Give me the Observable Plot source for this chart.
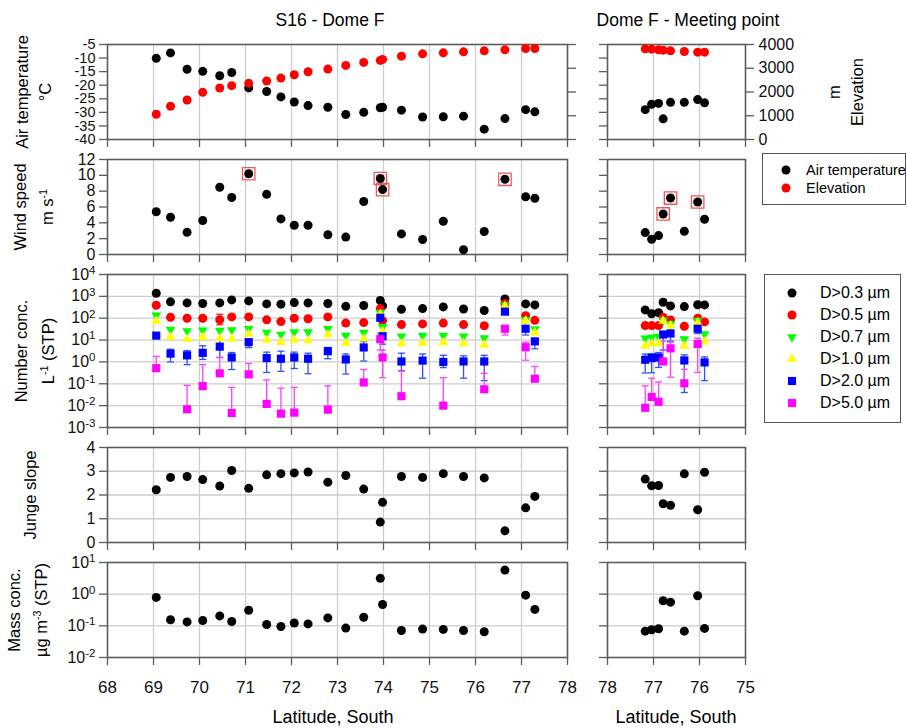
<!DOCTYPE html>
<html><head><meta charset="utf-8">
<script src="https://cdn.jsdelivr.net/npm/d3@7"></script>
<script src="https://cdn.jsdelivr.net/npm/@observablehq/plot@0.6"></script>
<style>
body{margin:0;background:#fff;}
#chart{position:relative;width:907px;height:728px;font-family:"Liberation Sans",Arial,Helvetica,sans-serif;color:#000;overflow:hidden;background:#fff}
#chart svg.panel{position:absolute;overflow:visible;background:transparent}
.t{position:absolute;white-space:nowrap;transform:translate(-50%,-50%);}
.rot{position:absolute;white-space:nowrap;text-align:center;transform:translate(-50%,-50%) rotate(-90deg);line-height:23px;font-size:16.5px}
.legend{position:absolute;border:1.3px solid #555;background:#fff;box-sizing:border-box}
.li{position:absolute;white-space:nowrap;line-height:20px}
</style></head><body><div id="chart"></div><script>
// ---------- S16 - Dome F ----------
const latS16  = [69.06, 69.37, 69.73, 70.07, 70.44, 70.70, 71.07, 71.46, 71.77, 72.06, 72.36, 72.79, 73.18, 73.57, 73.93, 73.98, 74.39, 74.85, 75.30, 75.74, 76.19, 76.64, 77.09, 77.29];
const tempS16 = [-10.1, -8.1, -14.1, -14.9, -16.5, -15.3, -21.0, -22.3, -24.3, -26.2, -27.5, -28.1, -30.8, -30.0, -28.3, -28.1, -29.2, -31.7, -31.6, -31.4, -36.2, -32.3, -29.0, -29.8];
const elevS16 = [1063, 1399, 1664, 1986, 2168, 2266, 2364, 2462, 2587, 2727, 2853, 2965, 3119, 3245, 3329, 3371, 3510, 3608, 3650, 3692, 3734, 3776, 3832, 3832];
const windS16 = [5.4, 4.7, 2.8, 4.3, 8.5, 7.2, 10.2, 7.6, 4.5, 3.7, 3.7, 2.5, 2.2, 6.7, 9.6, 8.2, 2.6, 1.9, 4.2, 0.6, 2.9, 9.5, 7.3, 7.1];
const windBoxS16 = [0,0,0,0,0,0,1,0,0,0,0,0,0,0,1,1,0,0,0,0,0,1,0,0];
const n03S16 = [1380, 560, 500, 470, 500, 690, 620, 450, 440, 520, 500, 470, 350, 380, 650, 365, 255, 275, 330, 265, 225, 760, 450, 405];
const n05S16 = [390, 110, 100, 100, 85, 115, 115, 84, 70, 100, 95, 115, 60, 63, 275, 78, 51, 55, 60, 51, 45, 470, 130, 80];
const n05LoS16 = [null,null,null,null,50,null,null,null,null,null,null,null,null,null,null,null,null,null,null,null,null,null,null,null];
const n05HiS16 = [null,null,null,null,150,null,null,null,null,null,null,null,null,null,null,null,null,null,null,null,null,null,null,null];
const n07S16 = [135, 30, 26, 28, 27, 29, 33, 22, 18, 23, 23, 33, 16, 22, 180, 40, 15, 16, 16, 15, 12.5, 400, 85, 32];
const n10S16 = [75, 14, 11, 13.5, 12, 11.5, 19, 10, 8, 10, 9.5, 18, 7.4, 11.5, 150, 25, 7, 7.4, 7.8, 7, 6.2, 360, 75, 22];
const n20S16 = [16, 2.4, 2.0, 2.6, 5.0, 1.6, 8, 1.5, 1.4, 1.6, 1.4, 3.1, 1.3, 4.6, 105, 15, 1.05, 1.15, 1.0, 1.05, 1.05, 200, 33, 8.7];
const n20LoS16 = [null, 1.0, 0.75, 1.3, 1.6, 0.45, 4.5, 0.33, 0.37, 0.5, 0.29, 1.4, 0.28, 1.1, null, 6.5, 0.4, 0.18, 0.55, 0.18, 0.14, null, 17, 4.0];
const n20HiS16 = [null, 3.8, 3.3, 5.5, 30, 2.7, 11, 2.8, 3.1, 2.8, 2.5, 4.6, 2.3, 8.5, null, 21, 2.5, 2.3, 2.0, 1.9, 2.0, null, 42, 12];
const n50S16 = [0.52, null, 0.0068, 0.078, 0.3, 0.0046, 0.27, 0.012, 0.0043, 0.0048, null, 0.0066, null, 0.115, 11, 1.6, 0.027, null, 0.01, null, 0.056, 33, 4.7, 0.17];
const n50LoS16 = [null,null,null,null,null,null,null,null,null,null,null,null,null,null,3.5,0.19,null,null,null,null,null,17,1.2,null];
const n50HiS16 = [1.8, null, 0.085, 0.75, 1.6, 0.068, 0.85, 0.15, 0.063, 0.068, null, 0.08, null, 0.45, 20, 3.5, 0.38, null, 0.19, null, 0.3, 45, 8, 0.62];
const jungeS16 = [2.22, 2.74, 2.78, 2.65, 2.38, 3.03, 2.28, 2.85, 2.90, 2.93, 2.97, 2.54, 2.82, 2.25, 0.86, 1.69, 2.78, 2.74, 2.90, 2.78, 2.72, 0.49, 1.46, 1.94];
const massS16 = [0.79, 0.155, 0.133, 0.147, 0.206, 0.137, 0.31, 0.11, 0.095, 0.123, 0.115, 0.178, 0.085, 0.187, 3.16, 0.47, 0.071, 0.079, 0.077, 0.071, 0.065, 5.75, 0.93, 0.33];

// ---------- Dome F - Meeting point ----------
const latDF  = [77.18, 77.04, 76.89, 76.79, 76.63, 76.33, 76.04, 75.89];
const tempDF = [-29.0, -27.0, -26.7, -32.4, -26.3, -26.3, -25.3, -26.5];
const elevDF = [3818, 3804, 3776, 3762, 3734, 3706, 3678, 3678];
const windDF = [2.77, 1.93, 2.39, 5.12, 7.13, 2.94, 6.63, 4.45];
const windBoxDF = [0,0,0,1,1,0,1,0];
const n03DF = [240, 160, 180, 540, 365, 340, 415, 405];
const n03LoDF = [null,null,null,420,null,null,null,null];
const n03HiDF = [null,null,null,700,null,null,null,null];
const n05DF = [46, 46, 46, 110, 83, 43, 100, 68];
const n07DF = [12, 13.5, 14.5, 80, 55, 11, 78, 19];
const n10DF = [5.4, 7, 7, 75, 46, 5.4, 63, 8.5];
const n20DF = [1.26, 1.5, 1.6, 18, 20, 1.17, 33, 0.95];
const n20LoDF = [0.31, 0.32, 0.56, 3.5, 9, 0.04, 20, 0.14];
const n20HiDF = [2.3, 2.4, 2.7, 22, 28, 2.1, 40, 1.7];
const n50DF = [0.008, 0.025, 0.015, 1.05, 4.2, 0.105, 6.6, null];
const n50LoDF = [null, null, null, null, 0.2, null, 0.33, null];
const n50HiDF = [0.08, 0.18, 0.12, 9, 8, 0.46, 12, null];
const jungeDF = [2.67, 2.39, 2.40, 1.63, 1.57, 2.89, 1.38, 2.96];
const massDF = [0.068, 0.075, 0.081, 0.62, 0.56, 0.068, 0.89, 0.083];

// ---------- axis ticks / labels ----------
const tempTicks = [-40, -35, -30, -25, -20, -15, -10, -5];
const elevTicks = [0, 1000, 2000, 3000, 4000];
const windTicks = [0, 2, 4, 6, 8, 10, 12];
const numTicks = [1e-3, 1e-2, 1e-1, 1e0, 1e1, 1e2, 1e3, 1e4];
const jungeTicks = [0, 1, 2, 3, 4];
const massTicks = [1e-2, 1e-1, 1e0, 1e1];
const latTicksS16 = [68, 69, 70, 71, 72, 73, 74, 75, 76, 77, 78];
const latTicksDF = [78, 77, 76, 75];
const sizeLabels = ["D>0.3 \u00b5m", "D>0.5 \u00b5m", "D>0.7 \u00b5m", "D>1.0 \u00b5m", "D>2.0 \u00b5m", "D>5.0 \u00b5m"];
const sizeColors = ["#000000", "#ff0000", "#00ff00", "#ffff00", "#0000ff", "#ff00ff"];

// ---------- layout ----------
const FONT = '"Liberation Sans", Arial, Helvetica, sans-serif';
const GRAY = "#5c5c5c", GRID = "#cdcdcd";
const COLS = [{x0: 107, x1: 567, domain: [68, 78], ticks: latTicksS16}, {x0: 607, x1: 745, domain: [78, 75], ticks: latTicksDF}];
const ROWS = [[44, 139], [159, 254], [274, 427], [447, 542], [562, 657]];
const chart = document.getElementById("chart");

const ELO = -40, EHI = -5;
const toT = e => ELO + e / 4000 * (EHI - ELO);
const fromT = t => Math.round((t - ELO) / (EHI - ELO) * 4000);

const sq = Math.sqrt(3);
const TRI_DOWN = {draw(ctx, size) { const y = -Math.sqrt(size / (sq * 3)); ctx.moveTo(0, -y * 2); ctx.lineTo(-sq * y, y); ctx.lineTo(sq * y, y); ctx.closePath(); }};
const CAP = {draw(ctx) { ctx.moveTo(-3.5, 0); ctx.lineTo(3.5, 0); }};
const symbols = ["circle", "circle", TRI_DOWN, "triangle", "square", "square"];
const symR = [4.5, 4.5, 3.6, 3.6, 4.6, 4.6];

function recs(lat, v, lo, hi, box) {
  return lat.map((x, i) => ({lat: x, v: v[i], lo: lo ? lo[i] : null, hi: hi ? hi[i] : null, box: box ? box[i] : 0}))
            .filter(d => d.v != null);
}
const logFmt = d => "10^" + Math.round(Math.log10(d));
const numFmt = d => String(d);

function errMarks(data, color) {
  const e = data.filter(d => d.hi != null);
  return [
    Plot.ruleX(e, {x: "lat", y1: d => (d.lo != null ? d.lo : d.v), y2: "hi", stroke: color, strokeWidth: 1.3}),
    Plot.dot(e, {x: "lat", y: "hi", symbol: CAP, stroke: color, strokeWidth: 1.3, fill: "none"}),
    Plot.dot(e.filter(d => d.lo != null), {x: "lat", y: "lo", symbol: CAP, stroke: color, strokeWidth: 1.3, fill: "none"})
  ];
}

function supify(svg) {
  d3.select(svg).selectAll("text").each(function () {
    const t = this.textContent;
    if (t.includes("^")) {
      const [b, e] = t.split("^");
      const s = d3.select(this);
      s.text(null);
      s.append("tspan").text(b);
      s.append("tspan").attr("dy", "-0.5em").attr("font-size", "0.72em").text(e);
    }
  });
}

function panel({col, row, y, yTicks, yFmt, gridY, marks, extra, fontSize}) {
  const C = COLS[col];
  const [y0, y1] = ROWS[row];
  const mL = 70, mR = 80, mT = 10, mB = 50;
  const last = row === 4;
  const svg = Plot.plot({
    width: C.x1 - C.x0 + mL + mR, height: y1 - y0 + mT + mB,
    marginLeft: mL, marginRight: mR, marginTop: mT, marginBottom: mB,
    x: {domain: C.domain, label: null},
    y: {...y, label: null},
    style: {fontFamily: FONT, fontSize: (fontSize || 16) + "px", color: "#111", background: "transparent", overflow: "visible"},
    marks: [
      Plot.gridX(C.ticks.slice(1, -1), {stroke: GRID, strokeOpacity: 1, strokeWidth: 1.3}),
      gridY ? Plot.gridY(gridY, {stroke: GRID, strokeOpacity: 1, strokeWidth: 1.3}) : null,
      Plot.axisX(C.ticks, {anchor: "bottom", tickSize: 8, tickPadding: 15, stroke: GRAY, strokeWidth: 1.3, fontSize: 17,
        tickFormat: last ? (d => String(d)) : (() => ""), label: null}),
      Plot.axisY(yTicks, {anchor: "left", tickSize: 8, tickPadding: 4, stroke: GRAY, strokeWidth: 1.3,
        tickFormat: col === 0 ? yFmt : (() => ""), label: null}),
      ...(extra || []),
      Plot.frame({stroke: GRAY, strokeWidth: 1.6}),
      ...marks
    ]
  });
  svg.classList.add("panel");
  svg.style.left = (C.x0 - mL) + "px";
  svg.style.top = (y0 - mT) + "px";
  supify(svg);
  chart.appendChild(svg);
}

// Row 0: air temperature + elevation
[[latS16, tempS16, elevS16], [latDF, tempDF, elevDF]].forEach(([lat, t, e], col) => {
  panel({col, row: 0, y: {domain: [ELO, EHI]}, yTicks: tempTicks, yFmt: numFmt, fontSize: 14.5,
    extra: [Plot.axisY(elevTicks.map(toT), {anchor: "right", tickSize: 8, tickPadding: 5, stroke: GRAY, strokeWidth: 1.3, fontSize: 16,
      tickFormat: col === 1 ? (d => String(fromT(d))) : (() => ""), label: null})],
    marks: [
      Plot.dot(recs(lat, t), {x: "lat", y: "v", r: 4.5, fill: "#000"}),
      Plot.dot(recs(lat, e), {x: "lat", y: d => toT(d.v), r: 4.5, fill: "#ff0000"})
    ]});
});

// Row 1: wind speed
[[latS16, windS16, windBoxS16], [latDF, windDF, windBoxDF]].forEach(([lat, w, b], col) => {
  const data = recs(lat, w, null, null, b);
  panel({col, row: 1, y: {domain: [0, 12]}, yTicks: windTicks, yFmt: numFmt,
    marks: [
      Plot.dot(data.filter(d => d.box), {x: "lat", y: "v", symbol: "square", r: 7, stroke: "#f05555", strokeWidth: 1.3, fill: "none"}),
      Plot.dot(data, {x: "lat", y: "v", r: 4.5, fill: "#000"})
    ]});
});

// Row 2: number concentration
[
  [latS16, [[n03S16], [n05S16, n05LoS16, n05HiS16], [n07S16], [n10S16], [n20S16, n20LoS16, n20HiS16], [n50S16, n50LoS16, n50HiS16]]],
  [latDF, [[n03DF, n03LoDF, n03HiDF], [n05DF], [n07DF], [n10DF], [n20DF, n20LoDF, n20HiDF], [n50DF, n50LoDF, n50HiDF]]]
].forEach(([lat, series], col) => {
  const sets = series.map(([v, lo, hi]) => recs(lat, v, lo, hi));
  const errCol = ["#000", "#ff2020", "#00dd00", "#e0e000", "#3050ff", "#ff40ff"];
  const marks = [];
  sets.forEach((s, i) => marks.push(...errMarks(s, errCol[i])));
  sets.forEach((s, i) => marks.push(Plot.dot(s, {x: "lat", y: "v", symbol: symbols[i], r: symR[i], fill: sizeColors[i]})));
  panel({col, row: 2, y: {type: "log", domain: [1e-3, 1e4]}, yTicks: numTicks, yFmt: logFmt,
    gridY: numTicks.slice(1, -1), marks});
});

// Row 3: Junge slope
[[latS16, jungeS16], [latDF, jungeDF]].forEach(([lat, j], col) => {
  panel({col, row: 3, y: {domain: [0, 4]}, yTicks: jungeTicks, yFmt: numFmt, gridY: [1, 2, 3],
    marks: [Plot.dot(recs(lat, j), {x: "lat", y: "v", r: 4.5, fill: "#000"})]});
});

// Row 4: mass concentration
[[latS16, massS16], [latDF, massDF]].forEach(([lat, m], col) => {
  panel({col, row: 4, y: {type: "log", domain: [1e-2, 1e1]}, yTicks: massTicks, yFmt: logFmt, gridY: [1e-1, 1e0],
    marks: [Plot.dot(recs(lat, m), {x: "lat", y: "v", r: 4.5, fill: "#000"})]});
});

// ---------- texts ----------
function text(html, cx, cy, size, cls) {
  const d = document.createElement("div");
  d.className = cls || "t";
  d.style.left = cx + "px"; d.style.top = cy + "px";
  if (size) d.style.fontSize = size + "px";
  d.innerHTML = html;
  chart.appendChild(d);
}
text("S16 - Dome F", 330, 20, 17.5);
text("Dome F - Meeting point", (COLS[1].x0 + COLS[1].x1) / 2 + 12, 20, 17.5);
text("Latitude, South", 333, 717, 18);
text("Latitude, South", (COLS[1].x0 + COLS[1].x1) / 2, 717, 18);
const rc = r => (ROWS[r][0] + ROWS[r][1]) / 2;
text("Air temperature<br>\u00b0C", 34, rc(0), null, "rot");
text("Wind speed<br>m s<sup style='font-size:0.65em'>-1</sup>", 34, rc(1), null, "rot");
text("Number conc.<br>L<sup style='font-size:0.65em'>-1</sup> (STP)", 35, rc(2), null, "rot");
text("Junge slope", 30, rc(3), null, "rot");
text("Mass conc.<br>\u00b5g m<sup style='font-size:0.65em'>-3</sup> (STP)", 28, rc(4), null, "rot");
text("m<br>Elevation", 846, rc(0), null, "rot");

// ---------- legends ----------
function legend(x, y, w, h, items, symX, txtX, firstY, step, fs) {
  const box = document.createElement("div");
  box.className = "legend";
  Object.assign(box.style, {left: x + "px", top: y + "px", width: w + "px", height: h + "px"});
  chart.appendChild(box);
  items.forEach((it, i) => {
    const cy = firstY + i * step;
    const s = d3.create("svg").attr("width", 16).attr("height", 16)
      .style("position", "absolute").style("left", (symX - 8) + "px").style("top", (cy - 8) + "px").style("overflow", "visible");
    const sz = Math.PI * it.r * it.r;
    s.append("path").attr("transform", "translate(8,8)")
      .attr("d", d3.symbol(it.sym === "circle" ? d3.symbolCircle : it.sym === "square" ? d3.symbolSquare : it.sym === "triangle" ? d3.symbolTriangle : it.sym, sz)())
      .attr("fill", it.color);
    chart.appendChild(s.node());
    const t = document.createElement("div");
    t.className = "li";
    t.style.fontSize = fs + "px";
    t.style.left = txtX + "px"; t.style.top = (cy - 10) + "px";
    t.textContent = it.label;
    chart.appendChild(t);
  });
}
legend(762, 153, 144, 52, [
  {label: "Air temperature", color: "#000", sym: "circle", r: 4.5},
  {label: "Elevation", color: "#ff0000", sym: "circle", r: 4.5}
], 786, 806, 170, 18, 14.5);
legend(764, 274, 137, 149, sizeLabels.map((l, i) => ({label: l, color: sizeColors[i], sym: symbols[i], r: symR[i]})), 792, 820, 293, 22, 16);
</script></body></html>
